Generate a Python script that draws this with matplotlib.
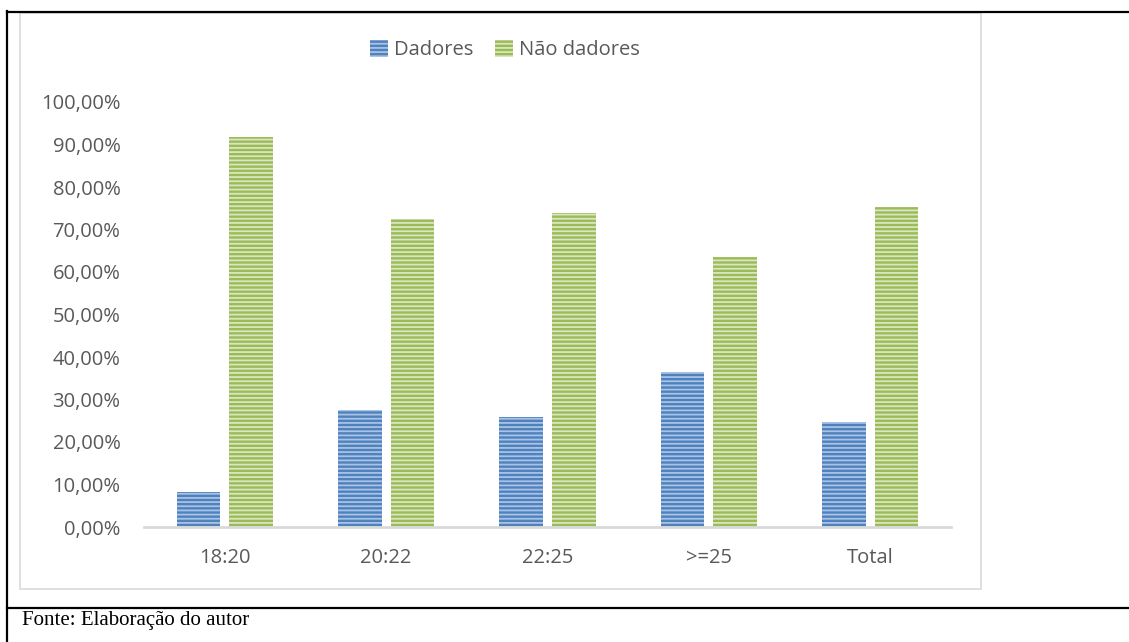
import matplotlib
matplotlib.use("Agg")
import matplotlib.pyplot as plt
import numpy as np
from matplotlib.lines import Line2D
from matplotlib.patches import Rectangle, Patch

categories = ["18:20", "20:22", "22:25", ">=25", "Total"]
dadores = [8.2, 27.6, 26.0, 36.4, 24.6]
nao_dadores = [91.8, 72.4, 74.0, 63.6, 75.4]
yticks = [0, 10, 20, 30, 40, 50, 60, 70, 80, 90, 100]
series_names = ["Dadores", "Não dadores"]
source_text = "Fonte: Elaboração do autor"

plt.rcParams["hatch.linewidth"] = 1.3

fig = plt.figure(figsize=(11.29, 6.42), dpi=100)
W, H = 1129, 642

def fx(px):
    return px / W

def fy(py):
    return 1 - py / H

# outer table-cell borders and the light chart frame
fig.add_artist(Line2D([fx(7), 1], [fy(11.5), fy(11.5)], color="black", lw=1.6))
fig.add_artist(Line2D([fx(7), 1], [fy(608), fy(608)], color="black", lw=1.6))
fig.add_artist(Line2D([fx(7), fx(7)], [fy(11), 0], color="black", lw=1.6))
fig.add_artist(Rectangle((fx(20), fy(589)), fx(981) - fx(20), fy(13) - fy(589),
                         fill=False, edgecolor="#d9d9d9", lw=1.2))

ax = fig.add_axes([fx(144), fy(527), fx(951) - fx(144), fy(102) - fy(527)])

x = np.arange(len(categories))
w = 0.27
gap = 0.028
blue, blue_l = "#4f81bd", "#a9c3e6"
green, green_l = "#9bbb59", "#d9e6bf"
pattern = "----"

ax.bar(x - w / 2 - gap, dadores, w, color=blue, edgecolor=blue_l, linewidth=0,
       hatch=pattern)
ax.bar(x + w / 2 + gap, nao_dadores, w, color=green, edgecolor=green_l, linewidth=0,
       hatch=pattern)

ax.set_xlim(-0.5, len(categories) - 0.5)
ax.set_ylim(0, 100)
ax.set_yticks(yticks)
ax.set_yticklabels([f"{v:.2f}%".replace(".", ",") for v in yticks])
ax.set_xticks(x)
ax.set_xticklabels(categories)

for s in ["top", "right", "left"]:
    ax.spines[s].set_visible(False)
ax.spines["bottom"].set_color("#d9d9d9")
ax.spines["bottom"].set_linewidth(2)
ax.tick_params(axis="both", length=0, labelsize=14.5, labelcolor="#595959")
ax.tick_params(axis="y", pad=17)
ax.tick_params(axis="x", pad=15)
for lab in ax.get_xticklabels() + ax.get_yticklabels():
    lab.set_fontfamily("Open Sans")

handles = [Patch(facecolor=blue, edgecolor=blue_l, linewidth=0, hatch=pattern),
           Patch(facecolor=green, edgecolor=green_l, linewidth=0, hatch=pattern)]
fig.legend(handles, series_names, loc="center", bbox_to_anchor=(fx(505), fy(50)),
           ncol=2, frameon=False, handlelength=0.9, handleheight=0.9,
           handletextpad=0.3, columnspacing=1.1,
           prop={"family": "Open Sans", "size": 14.5}, labelcolor="#595959")

fig.text(fx(22), fy(621), source_text, family="Liberation Serif", fontsize=15,
         va="center", ha="left", color="black")

fig.savefig("out.png", dpi=100)
